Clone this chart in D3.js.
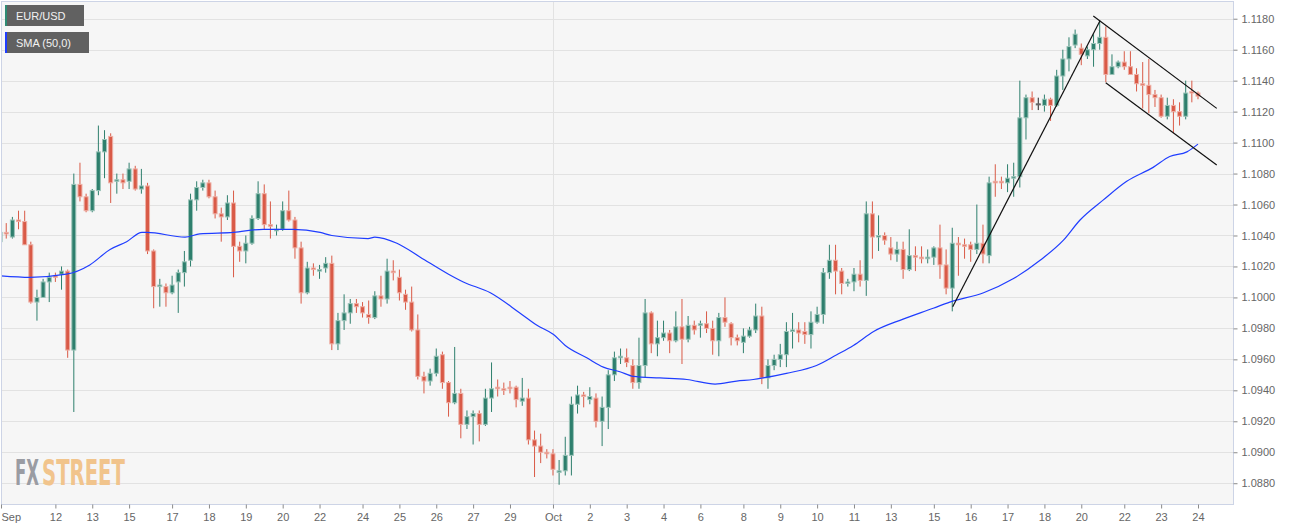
<!DOCTYPE html>
<html><head><meta charset="utf-8">
<script src="https://cdn.jsdelivr.net/npm/d3@7"></script>
<style>
body{margin:0;background:#ffffff;}
svg{display:block;font-family:"Liberation Sans",Arial,sans-serif;}
</style>
</head><body>
<svg id="chart" width="1299" height="530"></svg>
<script>
// ---- Data (EUR/USD, 4-hour candles) ----
const opens = [1.1036,1.1042,1.1039,1.1050,1.1049,1.1034,1.0997,1.1000,1.1010,1.1014,1.1015,1.1017,1.0966,1.1073,1.1065,1.1056,1.1069,1.1094,1.1104,1.1075,1.1076,1.1075,1.1083,1.1070,1.1072,1.1030,1.1007,1.1007,1.1003,1.1010,1.1016,1.1024,1.1063,1.1071,1.1074,1.1065,1.1054,1.1052,1.1061,1.1033,1.1030,1.1035,1.1051,1.1067,1.1047,1.1043,1.1044,1.1056,1.1050,1.1032,1.1003,1.1019,1.1017,1.1019,1.1022,1.0970,1.0985,1.0990,1.0996,1.0994,1.0989,1.0987,1.1001,1.0999,1.1017,1.1013,1.1002,1.0997,1.0979,1.0949,1.0946,1.0951,1.0963,1.0945,1.0932,1.0938,1.0918,1.0923,1.0925,1.0918,1.0935,1.0942,1.0941,1.0942,1.0942,1.0933,1.0935,1.0908,1.0904,1.0900,1.0899,1.0887,1.0888,1.0898,1.0931,1.0937,1.0934,1.0935,1.0920,1.0929,1.0950,1.0961,1.0961,1.0956,1.0945,1.0956,1.0990,1.0970,1.0974,1.0977,1.0972,1.0981,1.0973,1.0982,1.0982,1.0983,1.0980,1.0972,1.0987,1.0983,1.0974,1.0971,1.0975,1.0979,1.0988,1.0948,1.0956,1.0960,1.0963,1.0978,1.0979,1.0978,1.0976,1.0984,1.0989,1.1016,1.1024,1.1017,1.1009,1.1010,1.1015,1.1011,1.1054,1.1039,1.1040,1.1032,1.1028,1.1031,1.1018,1.1027,1.1026,1.1025,1.1026,1.1032,1.1021,1.1006,1.1035,1.1034,1.1034,1.1031,1.1035,1.1027,1.1075,1.1075,1.1074,1.1077,1.1078,1.1116,1.1129,1.1125,1.1124,1.1128,1.1124,1.1143,1.1154,1.1163,1.1161,1.1156,1.1160,1.1164,1.1168,1.1144,1.1149,1.1152,1.1149,1.1144,1.1138,1.1137,1.1131,1.1129,1.1117,1.1124,1.1120,1.1117,1.1133,1.1132];
const highs = [1.1053,1.1048,1.1052,1.1056,1.1056,1.1036,1.1005,1.1012,1.1016,1.1016,1.1020,1.1018,1.1080,1.1087,1.1067,1.1070,1.1111,1.1108,1.1106,1.1080,1.1080,1.1087,1.1085,1.1083,1.1074,1.1031,1.1012,1.1009,1.1014,1.1018,1.1030,1.1067,1.1075,1.1076,1.1076,1.1069,1.1058,1.1066,1.1069,1.1036,1.1040,1.1053,1.1075,1.1073,1.1062,1.1047,1.1062,1.1069,1.1052,1.1036,1.1023,1.1022,1.1021,1.1026,1.1027,1.0990,1.1002,1.0999,1.0999,1.0997,1.0998,1.1004,1.1014,1.1025,1.1024,1.1018,1.1005,1.1007,1.0989,1.0952,1.0954,1.0967,1.0965,1.0946,1.0968,1.0941,1.0927,1.0927,1.0927,1.0941,1.0958,1.0947,1.0945,1.0946,1.0943,1.0948,1.0941,1.0914,1.0912,1.0902,1.0902,1.0895,1.0910,1.0936,1.0943,1.0939,1.0942,1.0938,1.0936,1.0953,1.0965,1.0967,1.0967,1.0960,1.0974,1.0999,1.0991,1.0985,1.0985,1.0979,1.0991,1.0999,1.0988,1.0985,1.0985,1.0991,1.0985,1.0990,1.1000,1.0984,1.0976,1.0980,1.0981,1.0996,1.0994,1.0960,1.0963,1.0970,1.0984,1.0990,1.0984,1.0984,1.0991,1.0994,1.1019,1.1034,1.1034,1.1019,1.1012,1.1019,1.1024,1.1062,1.1062,1.1053,1.1042,1.1039,1.1036,1.1036,1.1044,1.1033,1.1033,1.1031,1.1033,1.1047,1.1031,1.1045,1.1039,1.1038,1.1036,1.1060,1.1047,1.1078,1.1086,1.1078,1.1086,1.1087,1.1140,1.1131,1.1133,1.1129,1.1131,1.1129,1.1147,1.1160,1.1168,1.1173,1.1164,1.1162,1.1170,1.1179,1.1175,1.1157,1.1153,1.1159,1.1159,1.1148,1.1152,1.1154,1.1134,1.1131,1.1129,1.1128,1.1126,1.1140,1.1140,1.1133];
const lows = [1.1031,1.1038,1.1038,1.1044,1.1034,1.0996,1.0985,1.1000,1.0997,1.1010,1.1005,1.0961,1.0926,1.1062,1.1055,1.1055,1.1066,1.1077,1.1061,1.1067,1.1070,1.1070,1.1069,1.1067,1.1028,1.0993,1.0994,1.0994,1.1002,1.0990,1.1007,1.1020,1.1056,1.1069,1.1064,1.1051,1.1036,1.1050,1.1013,1.1023,1.1022,1.1034,1.1050,1.1044,1.1038,1.1040,1.1043,1.1049,1.1025,1.0996,1.1002,1.1014,1.1012,1.1016,1.0966,1.0966,1.0979,1.0983,1.0990,1.0987,1.0983,1.0986,1.0994,1.0996,1.1011,1.0998,1.0992,1.0978,1.0947,1.0938,1.0943,1.0949,1.0941,1.0923,1.0931,1.0909,1.0915,1.0905,1.0907,1.0917,1.0926,1.0936,1.0937,1.0938,1.0929,1.0930,1.0905,1.0884,1.0893,1.0896,1.0885,1.0879,1.0885,1.0885,1.0925,1.0929,1.0931,1.0916,1.0904,1.0915,1.0946,1.0957,1.0955,1.0941,1.0941,1.0948,1.0964,1.0962,1.0972,1.0964,1.0971,1.0957,1.0971,1.0976,1.0974,1.0977,1.0963,1.0962,1.0981,1.0969,1.0969,1.0964,1.0974,1.0977,1.0944,1.0941,1.0953,1.0955,1.0955,1.0967,1.0971,1.0970,1.0967,1.0983,1.0983,1.1012,1.1002,1.1002,1.1007,1.1004,1.1007,1.1001,1.1025,1.1030,1.1034,1.1024,1.1023,1.1012,1.1017,1.1017,1.1022,1.1022,1.1021,1.1012,1.1002,1.0991,1.1014,1.1025,1.1023,1.1028,1.1022,1.1022,1.1065,1.1070,1.1068,1.1065,1.1071,1.1102,1.1121,1.1121,1.1120,1.1114,1.1123,1.1134,1.1146,1.1161,1.1150,1.1154,1.1149,1.1160,1.1139,1.1144,1.1148,1.1147,1.1144,1.1133,1.1122,1.1119,1.1123,1.1116,1.1115,1.1106,1.1111,1.1115,1.1126,1.1128];
const closes = [1.1042,1.1041,1.1050,1.1049,1.1034,1.0997,1.1000,1.1010,1.1013,1.1013,1.1017,1.0966,1.1073,1.1065,1.1056,1.1069,1.1094,1.1102,1.1074,1.1076,1.1074,1.1083,1.1070,1.1072,1.1030,1.1007,1.1008,1.1003,1.1008,1.1016,1.1023,1.1063,1.1071,1.1074,1.1065,1.1054,1.1052,1.1061,1.1033,1.1030,1.1035,1.1051,1.1067,1.1047,1.1046,1.1044,1.1056,1.1050,1.1032,1.1003,1.1019,1.1018,1.1018,1.1022,1.0970,1.0985,1.0990,1.0996,1.0994,1.0990,1.0987,1.1001,1.0999,1.1017,1.1016,1.1003,1.0997,1.0979,1.0949,1.0946,1.0951,1.0962,1.0945,1.0932,1.0938,1.0918,1.0923,1.0925,1.0918,1.0935,1.0941,1.0941,1.0940,1.0941,1.0934,1.0935,1.0908,1.0904,1.0900,1.0899,1.0889,1.0888,1.0898,1.0931,1.0937,1.0936,1.0936,1.0920,1.0929,1.0950,1.0961,1.0962,1.0958,1.0945,1.0956,1.0990,1.0970,1.0974,1.0977,1.0972,1.0981,1.0973,1.0982,1.0979,1.0983,1.0980,1.0972,1.0987,1.0984,1.0974,1.0972,1.0975,1.0979,1.0988,1.0948,1.0956,1.0960,1.0963,1.0978,1.0979,1.0977,1.0976,1.0984,1.0989,1.1016,1.1024,1.1017,1.1009,1.1010,1.1015,1.1011,1.1054,1.1039,1.1040,1.1037,1.1028,1.1031,1.1018,1.1027,1.1026,1.1025,1.1026,1.1032,1.1021,1.1006,1.1035,1.1034,1.1033,1.1031,1.1035,1.1028,1.1074,1.1074,1.1074,1.1077,1.1078,1.1116,1.1129,1.1126,1.1125,1.1128,1.1124,1.1143,1.1154,1.1162,1.1170,1.1157,1.1160,1.1164,1.1168,1.1144,1.1149,1.1152,1.1149,1.1144,1.1138,1.1137,1.1131,1.1129,1.1117,1.1124,1.1120,1.1117,1.1132,1.1132,1.1130];

// SMA(50) line, points (candle index, price)
const smaIdx = [0,4.9,10.8,14.6,17.9,20.6,23.1,23.9,30.1,32.5,38,42.8,47.7,52.1,54,59.9,61,64.6,68.4,73,75.4,79.8,84.6,87.4,90.1,92,95.5,98.2,100.9,103.1,107.4,111.8,116.4,119.9,122.6,124.2,128,132.9,136.2,138.9,142.2,147,151.9,154.6,160.1,164.9,169.3,173.1,175.8,179.6,183.4,187.7,190.4,193.2,195];
const smaVal = [1.1014,1.1013,1.1015,1.1021,1.1031,1.1036,1.1042,1.1042,1.1039,1.1041,1.1042,1.1044,1.1044,1.1042,1.1040,1.1038,1.1039,1.1035,1.1026,1.1015,1.1010,1.1003,1.0990,1.0982,1.0976,1.0969,1.0961,1.0955,1.0952,1.0949,1.0948,1.0947,1.0944,1.0946,1.0947,1.0948,1.0951,1.0956,1.0963,1.0969,1.0978,1.0986,1.0993,1.0997,1.1003,1.1012,1.1024,1.1037,1.1050,1.1063,1.1075,1.1084,1.1091,1.1094,1.1099];

// Drawn trend lines (candle index, price)
const trendRiseIdx = [155.07, 179.05], trendRiseVal = [1.0994, 1.11787];
const chanTopIdx = [177.96, 198.05], chanTopVal = [1.11817, 1.11221];
const chanBotIdx = [179.98, 198.05], chanBotVal = [1.11387, 1.10855];

// Axis ticks
const yTicks = [1.0880,1.0900,1.0920,1.0940,1.0960,1.0980,1.1000,1.1020,1.1040,1.1060,1.1080,1.1100,1.1120,1.1140,1.1160,1.1180];
const xTickIdx = [0.15,9,15,21,28,34,40,46,52,59,65,71,77,83,90,96,102,108,114,121,127,133,139,145,152,158,164,170,176,183,189,195];
const xTickLabels = ["Sep","12","13","15","17","18","19","20","22","24","25","26","27","29","Oct","2","3","4","6","8","9","10","11","13","15","16","17","18","20","22","23","24"];
const monthIdx = [90];

// ---- Drawing ----
const L = 1, T = 1, R = 1234, B = 505;
const svg = d3.select("#chart");

const x = d3.scaleLinear().domain([0, 200]).range([0.1, 0.1 + 6.143 * 200]);
const y = d3.scaleLinear().domain([1.0866, 1.11908]).range([504.9, 2.0]);

const GREEN = "#2e7f6d", RED = "#d95a47";
const GREEN_L = "#9cc4b9", RED_L = "#eeb0a6";

svg.append("rect").attr("x", L).attr("y", T).attr("width", R - L).attr("height", B - T).attr("fill", "#f6f6f6");

svg.append("defs").append("clipPath").attr("id", "plotclip")
  .append("rect").attr("x", L).attr("y", T).attr("width", R - L).attr("height", B - T);

// horizontal grid
svg.append("g").selectAll("line").data(yTicks).join("line")
  .attr("x1", L).attr("x2", R)
  .attr("y1", d => Math.round(y(d)) + 0.5).attr("y2", d => Math.round(y(d)) + 0.5)
  .attr("stroke", "#e2e2e2").attr("stroke-width", 1);
// month separator grid
svg.append("g").selectAll("line").data(monthIdx).join("line")
  .attr("x1", d => Math.round(x(d)) + 0.5).attr("x2", d => Math.round(x(d)) + 0.5)
  .attr("y1", T).attr("y2", B)
  .attr("stroke", "#e2e2e2").attr("stroke-width", 1);

// watermark: two separate texts, horizontally condensed to the reference widths
const wmParts = [{t: "FX", x: 15, w: 24, c: "#9a9ca3"}, {t: "STREET", x: 42, w: 83, c: "#f1c48c"}];
wmParts.forEach(p => {
  const g = svg.append("g");
  const t = g.append("text").attr("x", 0).attr("y", 0).attr("font-size", 36).attr("font-weight", "bold")
    .attr("font-family", '"Liberation Sans Narrow","DejaVu Sans Condensed",sans-serif')
    .attr("fill", p.c).text(p.t);
  const len = t.node().getComputedTextLength() || p.w;
  g.attr("transform", `translate(${p.x},484.5) scale(${p.w / len},1)`);
});

const plot = svg.append("g").attr("clip-path", "url(#plotclip)");

const candles = opens.map((o, i) => ({i, o, h: highs[i], l: lows[i], c: closes[i]}));
const col = d => d.c > d.o ? GREEN : (d.c < d.o ? RED : "#222");
const colL = d => d.c > d.o ? GREEN_L : (d.c < d.o ? RED_L : "#666");

// wicks
plot.append("g").selectAll("line").data(candles).join("line")
  .attr("x1", d => x(d.i)).attr("x2", d => x(d.i))
  .attr("y1", d => y(d.h)).attr("y2", d => y(d.l))
  .attr("stroke", col).attr("stroke-width", 1);
// bodies
plot.append("g").selectAll("rect").data(candles).join("rect")
  .attr("x", d => x(d.i) - 2)
  .attr("width", 4)
  .attr("y", d => y(Math.max(d.o, d.c)))
  .attr("height", d => Math.max(1, y(Math.min(d.o, d.c)) - y(Math.max(d.o, d.c))))
  .attr("fill", col)
  .attr("stroke", colL).attr("stroke-width", 1);

// SMA line
const smaPts = smaIdx.map((d, k) => [d, smaVal[k]]);
plot.append("path").datum(smaPts)
  .attr("fill", "none").attr("stroke", "#1f3dff").attr("stroke-width", 1.2)
  .attr("d", d3.line().x(d => x(d[0])).y(d => y(d[1])).curve(d3.curveMonotoneX));

// trend lines
[[trendRiseIdx, trendRiseVal], [chanTopIdx, chanTopVal], [chanBotIdx, chanBotVal]].forEach(([ix, v]) => {
  plot.append("path").datum(ix.map((d, k) => [d, v[k]]))
    .attr("fill", "none").attr("stroke", "#111").attr("stroke-width", 1.2)
    .attr("d", d3.line().x(d => x(d[0])).y(d => y(d[1])));
});

// frame
svg.append("rect").attr("x", L + 0.5).attr("y", T + 0.5).attr("width", R - L - 1).attr("height", B - T - 1)
  .attr("fill", "none").attr("stroke", "#cdd4e6").attr("stroke-width", 1);

// right axis
const yAxis = svg.append("g").attr("transform", `translate(${R - 0.5},0)`)
  .call(d3.axisRight(y).tickValues(yTicks).tickFormat(d3.format(".4f")).tickSize(4).tickPadding(4));
yAxis.select(".domain").remove();
yAxis.selectAll("line").attr("stroke", "#8a8a8a");
yAxis.selectAll("text").attr("fill", "#666").attr("font-size", 11).attr("font-family", '"Liberation Sans", Arial, sans-serif');

// bottom axis
const xAxis = svg.append("g").attr("transform", `translate(0,${B - 0.5})`)
  .call(d3.axisBottom(x).tickValues(xTickIdx).tickFormat((d, k) => xTickLabels[k]).tickSize(4).tickPadding(5));
xAxis.select(".domain").remove();
xAxis.selectAll("line").attr("stroke", "#8a8a8a");
xAxis.selectAll("text").attr("fill", "#666").attr("font-size", 11).attr("font-family", '"Liberation Sans", Arial, sans-serif');
xAxis.selectAll("text").filter((d, k) => k === 0).attr("text-anchor", "start").attr("x", 0);

// legend
const legend = [{t: "EUR/USD", c: "#2e8b74", w: 79}, {t: "SMA (50,0)", c: "#1f3dff", w: 84}];
legend.forEach((d, k) => {
  const g = svg.append("g").attr("transform", `translate(5,${5 + k * 27})`);
  g.append("rect").attr("width", d.w).attr("height", 21).attr("fill", "#616161");
  g.append("rect").attr("width", 2).attr("height", 21).attr("fill", d.c);
  g.append("text").attr("x", 11).attr("y", 14.5).attr("fill", "#f2f2f2").attr("font-size", 11).text(d.t);
});
</script>
</body></html>
